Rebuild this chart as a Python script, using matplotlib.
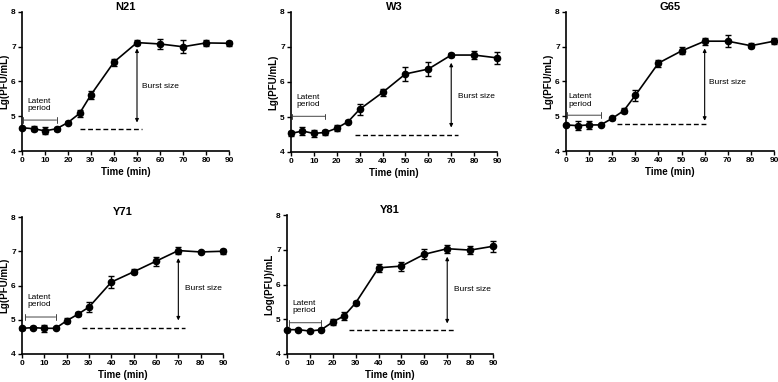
import matplotlib
matplotlib.use("Agg")
import matplotlib.pyplot as plt

# ---- data ----
time = [0, 5, 10, 15, 20, 25, 30, 40, 50, 60, 70, 80, 90]

n21 = [4.67, 4.64, 4.58, 4.64, 4.82, 5.08, 5.62, 6.56, 7.12, 7.08, 7.00, 7.11, 7.10]
n21_err = [0.03, 0.07, 0.10, 0.06, 0.05, 0.10, 0.12, 0.10, 0.06, 0.15, 0.18, 0.08, 0.07]

w3 = [4.53, 4.60, 4.53, 4.56, 4.68, 4.87, 5.22, 5.70, 6.23, 6.37, 6.77, 6.77, 6.69]
w3_err = [0.08, 0.12, 0.10, 0.07, 0.08, 0.04, 0.15, 0.10, 0.20, 0.20, 0.05, 0.12, 0.17]

g65 = [4.75, 4.73, 4.75, 4.75, 4.94, 5.16, 5.60, 6.53, 6.88, 7.16, 7.16, 7.03, 7.16]
g65_err = [0.03, 0.13, 0.12, 0.03, 0.04, 0.08, 0.15, 0.10, 0.10, 0.10, 0.18, 0.08, 0.08]

y71 = [4.75, 4.77, 4.75, 4.75, 4.97, 5.16, 5.37, 6.10, 6.40, 6.71, 7.02, 6.98, 7.00]
y71_err = [0.05, 0.05, 0.10, 0.03, 0.07, 0.06, 0.14, 0.17, 0.07, 0.13, 0.10, 0.04, 0.08]

y81 = [4.70, 4.70, 4.66, 4.70, 4.92, 5.10, 5.47, 6.48, 6.53, 6.87, 7.03, 6.99, 7.10]
y81_err = [0.03, 0.03, 0.02, 0.05, 0.08, 0.11, 0.06, 0.12, 0.13, 0.14, 0.12, 0.12, 0.16]

titles = ["N21", "W3", "G65", "Y71", "Y81"]
ylabels = ["Lg(PFU/mL)", "Lg(PFU/mL)", "Lg(PFU/mL)", "Lg(PFU/mL)", "Log(PFU)/mL"]
series = [n21, w3, g65, y71, y81]
errors = [n21_err, w3_err, g65_err, y71_err, y81_err]

# annotations: latent bracket (x0, x1, y), dashed baseline (x0, x1, y),
# burst arrow (x, y0, y1), burst label (x, y), latent label (x, y)
latent = [(0.5, 15, 4.89), (0.5, 15, 5.02), (0.5, 15, 5.03), (1.5, 15, 5.08), (1, 15, 4.90)]
baseline = [(25, 52, 4.62), (28, 73, 4.50), (22, 61, 4.79), (27, 73, 4.77), (27, 73, 4.68)]
burst = [(50, 4.82, 6.95), (70, 4.70, 6.55), (60, 4.87, 6.95), (70, 4.98, 6.80), (70, 4.88, 6.80)]
burst_txt = [(52, 5.85), (73, 5.60), (62, 5.98), (73, 5.90), (73, 5.85)]
latent_txt = [(7.5, 5.32), (7.5, 5.45), (6, 5.45), (7.5, 5.55), (7.5, 5.35)]

# axes boxes in pixels: left, right, top, bottom
boxes = [(22, 229, 12, 151), (291, 497, 12, 152), (566, 774, 12, 151),
         (22, 223, 217, 354), (287, 493, 215, 354)]

W, H = 778, 382
plt.rcParams['font.family'] = ['Liberation Sans', 'DejaVu Sans']
fig = plt.figure(figsize=(W / 100, H / 100), dpi=100)

for i in range(5):
    l, r, t, b = boxes[i]
    ax = fig.add_axes([l / W, 1 - b / H, (r - l) / W, (b - t) / H])
    ax.errorbar(time, series[i], yerr=errors[i], color='black', lw=1.2,
                marker='o', ms=4.5, capsize=2.5, elinewidth=1, capthick=1,
                clip_on=False, zorder=3)
    ax.set_xlim(0, 90)
    ax.set_ylim(4, 8)
    ax.set_xticks(range(0, 91, 10))
    ax.set_yticks([4, 5, 6, 7, 8])
    for s in ['top', 'right']:
        ax.spines[s].set_visible(False)
    for s in ['left', 'bottom']:
        ax.spines[s].set_linewidth(1.2)
    ax.tick_params(direction='out', length=3, width=1, labelsize=6, pad=1.5)
    for lab in ax.get_xticklabels() + ax.get_yticklabels():
        lab.set_fontweight('bold')
    ax.text(0.5, 1.0, titles[i], transform=ax.transAxes, fontsize=8,
            fontweight='bold', ha='center', va='bottom')
    ax.set_xlabel("Time (min)", fontsize=7, fontweight='bold', labelpad=2)
    ax.set_ylabel(ylabels[i], fontsize=7, fontweight='bold', labelpad=1)

    # latent period bracket
    x0, x1, y = latent[i]
    ax.annotate('', xy=(x0, y), xytext=(x1, y),
                arrowprops=dict(arrowstyle='|-|', lw=0.7, color='#444444',
                                mutation_scale=2, shrinkA=0, shrinkB=0))
    ax.text(latent_txt[i][0], latent_txt[i][1], "Latent\nperiod", fontsize=6,
            ha='center', va='center', linespacing=1.1)

    # dashed baseline
    x0, x1, y = baseline[i]
    ax.plot([x0, x1], [y, y], color='black', lw=1, ls=(0, (3.5, 2)))

    # burst size arrow
    bx, by0, by1 = burst[i]
    ax.annotate('', xy=(bx, by1), xytext=(bx, by0),
                arrowprops=dict(arrowstyle='<|-|>', lw=0.8, color='black',
                                mutation_scale=5, shrinkA=0, shrinkB=0))
    ax.text(burst_txt[i][0], burst_txt[i][1], "Burst size", fontsize=6,
            ha='left', va='center')

fig.savefig("out.png", dpi=100)
